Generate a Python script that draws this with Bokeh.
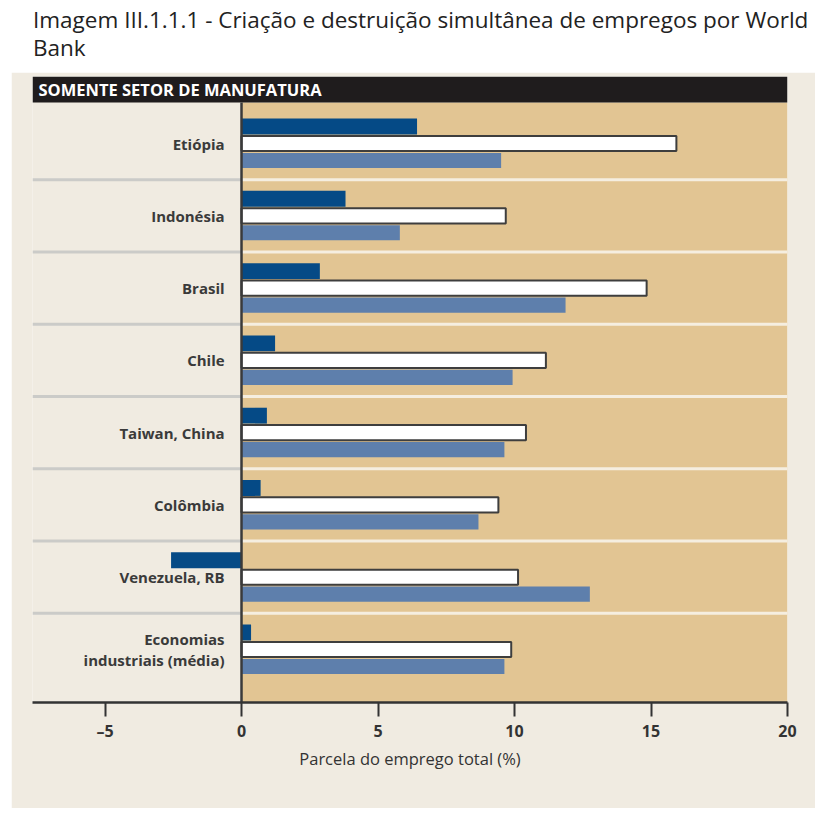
from bokeh.plotting import figure
from bokeh.models import ColumnDataSource, FixedTicker, Div, Label, Range1d
from bokeh.layouts import column
from bokeh.transform import dodge
from bokeh.embed import file_html
from bokeh.resources import INLINE
from bokeh.core.properties import value

# ---- data ----
paises = ["Etiópia", "Indonésia", "Brasil", "Chile", "Taiwan, China",
          "Colômbia", "Venezuela, RB", "Economias\nindustriais (média)"]
variacao_liquida = [6.43, 3.81, 2.87, 1.23, 0.93, 0.70, -2.58, 0.35]
criacao_bruta = [15.93, 9.68, 14.84, 11.15, 10.42, 9.41, 10.13, 9.88]
destruicao_bruta = [9.51, 5.80, 11.87, 9.93, 9.63, 8.68, 12.76, 9.63]
ticks_x = [-5, 0, 5, 10, 15, 20]
rotulos_ticks = {-5: "\u20135"}
titulo_l1 = "Imagem III.1.1.1 - Criação e destruição simultânea de empregos por World"
titulo_l2 = "Bank"
cabecalho = "SOMENTE SETOR DE MANUFATURA"
rotulo_x = "Parcela do emprego total (%)"

# ---- layout constants ----
n = len(paises)
ypos = [n - i for i in range(n)]
X0, X1 = -7.656, 20.0
Y0, Y1 = 0.267, 8.927
HB = 8.567  # bottom of header strip

LIGHT = "#f0ebe1"
TAN = "#e2c593"
FONT = "Open Sans"

src = ColumnDataSource(dict(y=ypos, net=variacao_liquida, cri=criacao_bruta,
                            des=destruicao_bruta, label=paises))

p = figure(width=804, height=736, x_range=Range1d(X0, X1), y_range=Range1d(Y0, Y1),
           output_backend="svg", toolbar_location=None, title=None,
           min_border_left=21, min_border_right=28, min_border_top=4, min_border_bottom=106)
p.margin = (0, 0, 0, 11)
p.background_fill_color = LIGHT
p.border_fill_color = LIGHT
p.outline_line_color = None
p.xgrid.visible = False
p.ygrid.visible = False
p.yaxis.visible = False

# tan data region and header strip
p.quad(left=0, right=X1, bottom=Y0, top=HB, fill_color=TAN, line_color=None)
p.quad(left=X0, right=X1, bottom=HB, top=Y1, fill_color="#1f1c1d", line_color=None)
p.add_layout(Label(x=X0 + 0.22, y=(HB + Y1) / 2, text=cabecalho, text_color="white",
                   text_font=FONT, text_font_style="bold", text_font_size="16.5px",
                   text_baseline="middle"))

# group separators
seps = [k + 0.5 for k in range(1, n)]
p.segment(x0=[X0] * len(seps), x1=[0] * len(seps), y0=seps, y1=seps,
          line_color="#cbcbc8", line_width=3)
p.segment(x0=[0] * len(seps), x1=[X1] * len(seps), y0=seps, y1=seps,
          line_color="#f5eee0", line_width=3)

# bars
p.hbar(y=dodge("y", 0.235), height=0.22, left=0, right="net", source=src,
       fill_color="#054a86", line_color=None)
p.hbar(y="y", height=0.21, left=0, right="cri", source=src,
       fill_color="white", line_color="#3e3e3e", line_width=2)
p.hbar(y=dodge("y", -0.235), height=0.21, left=0, right="des", source=src,
       fill_color="#5e7fac", line_color=None)

# zero line (below the header strip)
p.segment(x0=[0], x1=[0], y0=[Y0], y1=[HB], line_color="#3a3a3a", line_width=2.5)

# category labels
p.text(x=-0.62, y="y", text="label", source=src, text_align="right",
       text_baseline="middle", text_font=value(FONT), text_font_size="15px",
       text_color="#3a3a3a", text_font_style="bold", text_line_height=1.05)

# x axis
ax = p.xaxis[0]
ax.ticker = FixedTicker(ticks=ticks_x)
ax.major_label_overrides = rotulos_ticks
ax.axis_line_color = "#333333"
ax.axis_line_width = 2.5
ax.major_tick_line_color = "#333333"
ax.major_tick_line_width = 2
ax.major_tick_in = 0
ax.major_tick_out = 14
ax.minor_tick_line_color = None
ax.major_label_standoff = 3
ax.major_label_text_font = FONT
ax.major_label_text_font_size = "16px"
ax.major_label_text_font_style = "bold"
ax.major_label_text_color = "#333333"
ax.axis_label = rotulo_x
ax.axis_label_text_font = FONT
ax.axis_label_text_font_size = "16.5px"
ax.axis_label_text_font_style = "normal"
ax.axis_label_text_color = "#333333"
ax.axis_label_standoff = 2

titulo = Div(text=titulo_l1 + "<br>" + titulo_l2, width=822, height=72, margin=0,
             styles={"font-family": "'Open Sans', sans-serif", "font-size": "22.5px",
                     "line-height": "28px", "padding-left": "33px", "padding-top": "6px",
                     "color": "#222222", "white-space": "nowrap", "box-sizing": "border-box"})

layout = column(titulo, p, spacing=0)
open("out.html", "w").write(file_html(layout, INLINE))
